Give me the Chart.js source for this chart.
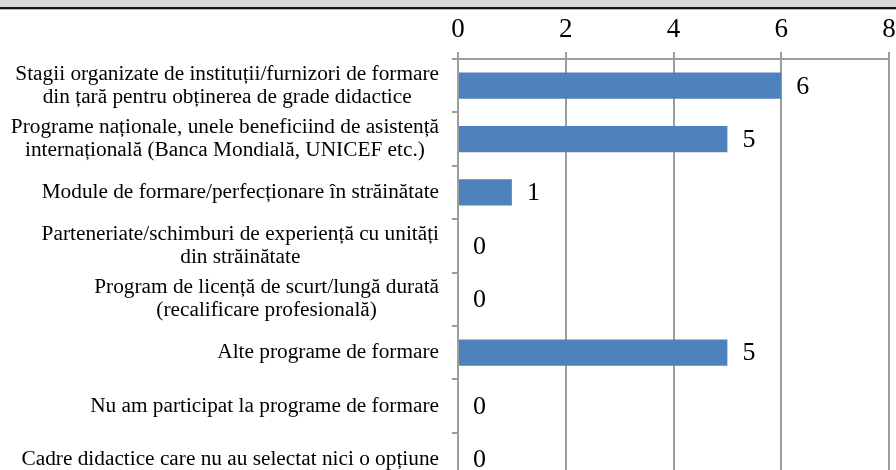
<!DOCTYPE html>
<html>
<head>
<meta charset="utf-8">
<script src="https://cdn.jsdelivr.net/npm/chart.js@4.4.0/dist/chart.umd.min.js"></script>
<style>
  html, body { margin: 0; padding: 0; background: #fff; overflow: hidden; }
  #wrap { position: absolute; left: 0; top: 0; width: 896px; height: 486px; }
  #band { position: absolute; left: 0; top: 0; width: 896px; height: 7px; background: #d9d9d9;
          border-bottom: 2px solid #151515; z-index: 2; }
  #band2 { position: absolute; left: 0; top: 9px; width: 896px; height: 1px; background: #b5b5b5; z-index: 2; }
</style>
</head>
<body>
<div id="band"></div>
<div id="band2"></div>
<div id="wrap"><canvas id="graphicFirst"></canvas></div>
<script>
// Programe de formare - bare orizontale

const categorii = [
  ['Stagii organizate de instituții/furnizori de formare', 'din țară pentru obținerea de grade didactice'],
  ['Programe naționale, unele beneficiind de asistență', 'internațională (Banca Mondială, UNICEF etc.)'],
  ['Module de formare/perfecționare în străinătate'],
  ['Parteneriate/schimburi de experiență cu unități', 'din străinătate'],
  ['Program de licență de scurt/lungă durată', '(recalificare profesională)'],
  ['Alte programe de formare'],
  ['Nu am participat la programe de formare'],
  ['Cadre didactice care nu au selectat nici o opțiune']
];
const valori = [6, 5, 1, 0, 0, 5, 0, 0];
const tickuriX = [0, 2, 4, 6, 8];

const FONT = "'Liberation Serif', 'Times New Roman', serif";
const GRID = '#9d9d9d';

// etichete categorii: bloc aliniat la dreapta, randuri centrate
const labelsPlugin = {
  id: 'labelsPlugin',
  afterDraw(chart) {
    const ctx = chart.ctx;
    const yScale = chart.scales.y;
    const area = chart.chartArea;
    ctx.save();
    // linia de sus a zonei de grafic
    ctx.strokeStyle = GRID;
    ctx.lineWidth = 2;
    ctx.beginPath();
    ctx.moveTo(area.left - 6, area.top);
    ctx.lineTo(area.right + 1, area.top);
    ctx.stroke();

    ctx.font = '21.3px ' + FONT;
    ctx.fillStyle = '#000';
    ctx.textAlign = 'center';
    ctx.textBaseline = 'middle';
    const right = 439;
    const lh = 23;
    categorii.forEach(function(lines, i) {
      const yc = yScale.getPixelForValue(i);
      let w = 0;
      lines.forEach(function(l) { w = Math.max(w, ctx.measureText(l).width); });
      const xc = right - w / 2;
      const y0 = yc - (lines.length - 1) * lh / 2;
      lines.forEach(function(l, k) {
        ctx.fillText(l, xc, y0 + k * lh);
      });
    });
    ctx.restore();
  }
};

// valori la capatul barelor
const valuePlugin = {
  id: 'valuePlugin',
  afterDatasetsDraw(chart) {
    const ctx = chart.ctx;
    const meta = chart.getDatasetMeta(0);
    ctx.save();
    ctx.font = '26px ' + FONT;
    ctx.fillStyle = '#000';
    ctx.textAlign = 'left';
    ctx.textBaseline = 'middle';
    meta.data.forEach(function(bar, i) {
      ctx.fillText(String(valori[i]), bar.x + 15, bar.y + 1);
    });
    ctx.restore();
  }
};

let chart1;
function drawFirstElement() {
  var ctx = document.getElementById('graphicFirst').getContext('2d');
  if (chart1) {
    chart1.destroy();
  }
  chart1 = new Chart(ctx, {
    type: 'bar',
    data: {
      labels: categorii.map(function(c) { return c.join(' '); }),
      datasets: [{
        data: valori,
        backgroundColor: '#4F81BD',
        borderWidth: 0,
        categoryPercentage: 1,
        barPercentage: 0.49
      }]
    },
    options: {
      indexAxis: 'y',
      responsive: true,
      maintainAspectRatio: false,
      animation: false,
      layout: { padding: { left: 0, right: 7, top: 0, bottom: 0 } },
      plugins: {
        legend: { display: false },
        tooltip: { enabled: false },
        title: { display: false }
      },
      scales: {
        x: {
          position: 'top',
          min: 0,
          max: 8,
          afterBuildTicks: function(scale) {
            scale.ticks = tickuriX.map(function(v) { return { value: v }; });
          },
          afterFit: function(scale) {
            scale.height = 59;
            scale.paddingLeft = 0;
            scale.paddingRight = 0;
          },
          grid: {
            color: GRID,
            lineWidth: 2,
            drawTicks: true,
            tickLength: 7
          },
          border: { display: true, color: GRID, width: 2 },
          ticks: {
            color: '#000',
            padding: 6,
            font: { family: FONT, size: 27 }
          }
        },
        y: {
          afterFit: function(scale) { scale.width = 458; },
          grid: {
            drawOnChartArea: false,
            drawTicks: true,
            tickLength: 6,
            color: GRID,
            lineWidth: 2
          },
          border: { display: true, color: GRID, width: 2 },
          ticks: { display: false }
        }
      }
    },
    plugins: [labelsPlugin, valuePlugin]
  });
}

drawFirstElement();
</script>
</body>
</html>
